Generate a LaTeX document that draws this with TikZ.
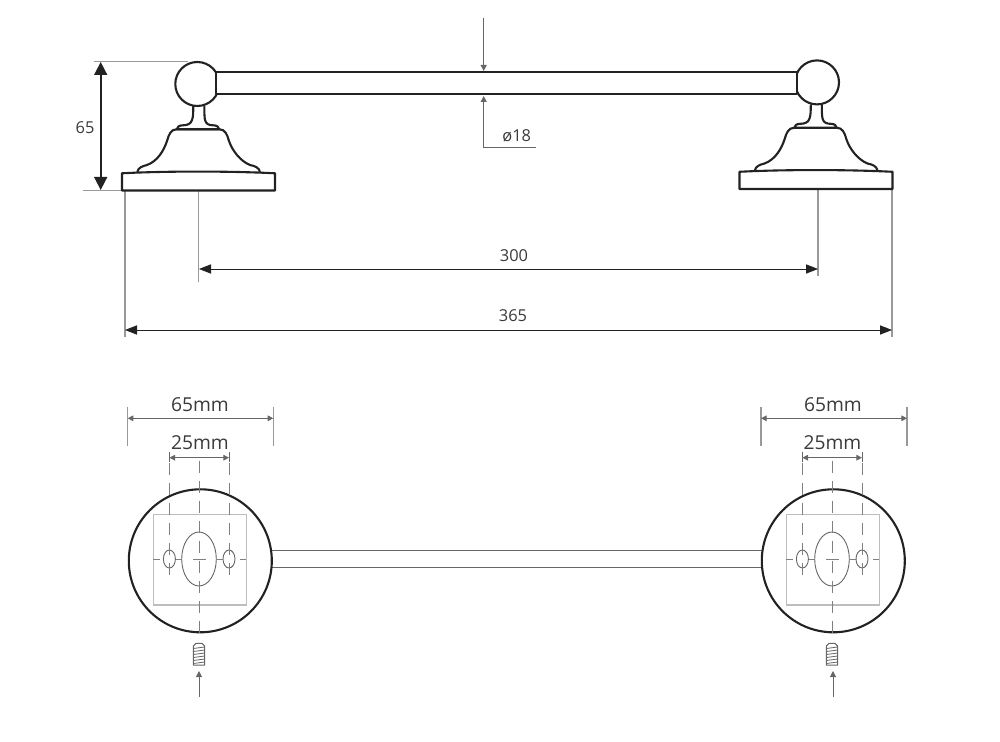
\documentclass[tikz,border=0pt]{standalone}
\usepackage{fontspec}
\setmainfont{Open Sans}
\usetikzlibrary{arrows.meta}
\definecolor{ink}{HTML}{222222}
\definecolor{txt}{HTML}{3A3A3A}
\definecolor{ext}{HTML}{999999}
\definecolor{thinl}{HTML}{666666}
\definecolor{plate}{HTML}{BDBDBD}
\definecolor{ctr}{HTML}{808080}
\tikzset{
  heavy/.style={draw=ink,line width=1.05pt,line join=round,fill=white},
  extline/.style={draw=ext,line width=.55pt},
  bigdim/.style={draw=ink,line width=.42pt,{Triangle[length=6pt,width=4.6pt]}-{Triangle[length=6pt,width=4.6pt]}},
  hugedim/.style={draw=ink,line width=.8pt,{Triangle[length=6.5pt,width=6.5pt]}-{Triangle[length=6.5pt,width=6.5pt]}},
  smalldim/.style={draw=thinl,line width=.5pt,{Triangle[length=2.8pt,width=2.8pt]}-{Triangle[length=2.8pt,width=2.8pt]}},
  leader/.style={draw=thinl,line width=.5pt,-{Triangle[length=3pt,width=3pt]}},
  thin outline/.style={draw=thinl,line width=.45pt},
  centre/.style={draw=ctr,line width=.5pt,dash pattern=on 6pt off 4pt},
  centreh/.style={draw=ctr,line width=.5pt},
  lab/.style={text=txt,font=\fontsize{8.2pt}{10pt}\selectfont,inner sep=0pt},
  labbig/.style={text=txt,font=\fontsize{9.6pt}{11pt}\selectfont,inner sep=0pt},
}
\newcommand{\sidefixing}{%
  % bell
  \draw[heavy] (137.3,172) .. controls (138,167.5) and (143,166) .. (147,165)
     .. controls (158,161) and (164,150) .. (167,141)
     .. controls (169,134) and (171,129.3) .. (176.7,129.3)
     -- (219.3,129.3)
     .. controls (225,129.3) and (227,134) .. (229,141)
     .. controls (232,150) and (240,161) .. (250,165)
     .. controls (255,166) and (259,167.5) .. (260,172);
  % neck and flange
  \draw[heavy] (193.3,106) .. controls (193.3,112) and (193.2,117) .. (192,120)
     .. controls (191,124) and (187,125.3) .. (183,125.3)
     .. controls (179,125.3) and (177,127) .. (176.7,129.3)
     -- (219.3,129.3)
     .. controls (219,127) and (217,125.3) .. (213,125.3)
     .. controls (209,125.3) and (206,124) .. (205,120)
     .. controls (204.4,117) and (204.3,112) .. (204.3,106);
  % wall plate
  \draw[heavy] (122,173.3) .. controls (165,171) and (230,171) .. (275,173.3) -- (275,190.5) -- (122,190.5) -- cycle;
}
\newcommand{\planfixing}[2]{%
  % #1 = x of fixing centre line, #2 = x of circle centre
  \draw[draw=ink,line width=1.05pt,fill=white] (#2,560.8) circle[radius=71.5];
  \draw[draw=plate,line width=.55pt] ({#1-45.7},514.3) rectangle ({#1+47.3},605);
  \draw[thin outline] (#1,559) ellipse[x radius=17.3,y radius=27];
  \draw[thin outline] ({#1-29.6},559) ellipse[x radius=6,y radius=9];
  \draw[thin outline] ({#1+30},559) ellipse[x radius=6,y radius=9];
  \draw[centre] ({#1-29.6},463) -- ({#1-29.6},582);
  \draw[centre] ({#1+30},463) -- ({#1+30},582);
  \draw[centre] (#1,461) -- (#1,637);
  \foreach \a/\b in {-45.7/-39,-23.3/-17.3,-5.7/7,17.7/24.3,41/47.3}
    \draw[centreh] ({#1+\a},559) -- ({#1+\b},559);
  % screw
  \begin{scope}[shift={(#1,0)}]
    \draw[draw=thinl,line width=.5pt,fill=white] (-5.6,665) -- (-5.6,646) -- (-3,643.4) -- (3,643.4) -- (5.6,646) -- (5.6,665) -- cycle;
    \foreach \y in {647,650,653,656,659,662}
      \draw[draw=thinl,line width=.4pt] (-5.6,{\y+1.5}) -- (5.6,\y);
  \end{scope}
}
\begin{document}
\begin{tikzpicture}[x=.5pt,y=-.5pt]
\useasboundingbox (0,0) rectangle (1000,742);
% extension lines, side view
\coordinate (top65) at (94,61.5);
\coordinate (topball) at (188,61.5);
\coordinate (bot65) at (83,190.7);
\coordinate (botplate) at (122,190.7);
\draw[extline] (top65) -- (topball);
\draw[extline] (bot65) -- (botplate);
\draw[extline] (125,191) -- (125,337);
\draw[extline] (198.5,191) -- (198.5,282);
\draw[extline] (818,190) -- (818,276);
\draw[extline] (892,190) -- (892,337);
% side view fixings
\sidefixing
\begin{scope}[shift={(617.5,-1.5)}]\sidefixing\end{scope}
% balls and rod
\draw[heavy] (197.3,84) circle[radius=22];
\draw[heavy] (817,82.4) circle[radius=22];
\draw[heavy] (215.7,72.3) rectangle (797.3,94);
% side dimensions
\coordinate (h1) at (100.7,62);
\coordinate (h2) at (100.7,190);
\draw[hugedim] (h1) -- (h2);
\node[lab] (t65) at (85,128) {65};
\coordinate (a300) at (199,269);
\coordinate (b300) at (818,269);
\draw[bigdim] (a300) -- (b300);
\node[lab] (t300) at (514,256) {300};
\coordinate (a365) at (125,330);
\coordinate (b365) at (892,330);
\draw[bigdim] (a365) -- (b365);
\node[lab] (t365) at (513,316) {365};
% diameter
\coordinate (d0) at (483.7,18);
\coordinate (d1) at (483.7,71);
\coordinate (d2) at (536,148);
\coordinate (d3) at (483.7,148);
\coordinate (d4) at (483.7,96);
\draw[leader] (d0) -- (d1);
\draw[leader] (d2) -- (d3) -- (d4);
\node[lab] (tdia) at (516.7,136) {ø18};
% plan rod
\draw[thin outline] (272,550.8) -- (762,550.8);
\draw[thin outline] (272,567.7) -- (762,567.7);
% plan fixings
\planfixing{199}{200.3}
\planfixing{832}{833.3}
% plan arrows
\coordinate (ar1) at (199,697);
\coordinate (ar1e) at (199,671);
\coordinate (ar2) at (833,697);
\coordinate (ar2e) at (833,671);
\draw[leader] (ar1) -- (ar1e);
\draw[leader] (ar2) -- (ar2e);
% plan dimensions left
\draw[extline] (127.7,407) -- (127.7,446);
\draw[extline] (273.3,407) -- (273.3,446);
\draw[smalldim] (127.7,418.3) -- (273.3,418.3);
\node[labbig] (l65) at (200,404.5) {65mm};
\draw[smalldim] (169.4,457.7) -- (229,457.7);
\draw[draw=thinl,line width=.4pt] (169.4,452) -- (169.4,462) (229,452) -- (229,462);
\node[labbig] (l25) at (200,443) {25mm};
% plan dimensions right
\draw[extline] (761,407) -- (761,446);
\draw[extline] (907,407) -- (907,446);
\draw[smalldim] (761,418.3) -- (907,418.3);
\node[labbig] (r65) at (833,404.5) {65mm};
\draw[smalldim] (802.4,457.7) -- (862,457.7);
\draw[draw=thinl,line width=.4pt] (802.4,452) -- (802.4,462) (862,452) -- (862,462);
\node[labbig] (r25) at (832.5,443) {25mm};
\end{tikzpicture}
\end{document}
